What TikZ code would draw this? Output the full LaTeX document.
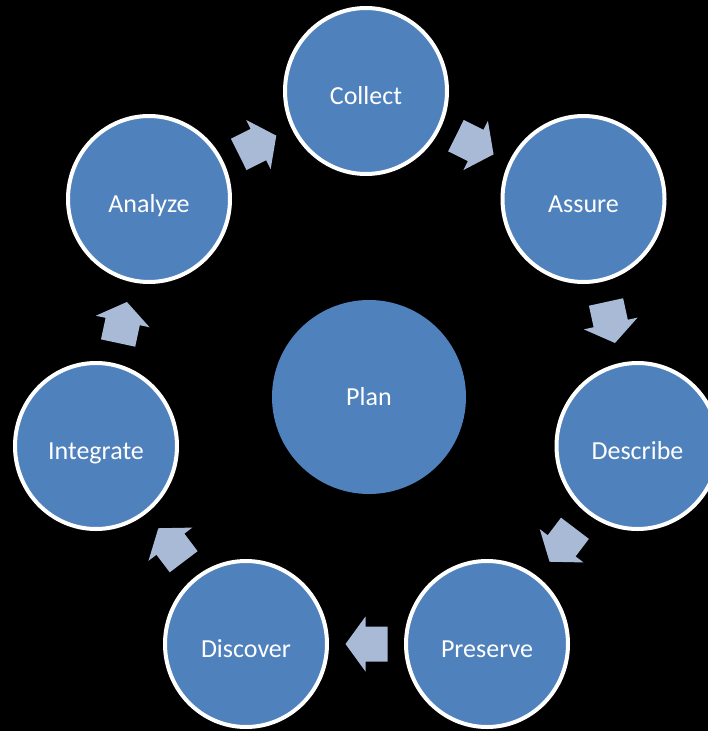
\documentclass[tikz,border=0pt]{standalone}
\usepackage{fontspec}
\setmainfont{Carlito}
\usetikzlibrary{shapes.geometric,calc}
\definecolor{cblue}{RGB}{79,129,189}
\definecolor{arrowblue}{RGB}{168,186,214}
% block arrow between two named nodes, centred on the midpoint of their centres
\newcommand\blockconn[2]{%
  \fill[blockarrow] let \p1=($(#2)-(#1)$), \n1={atan2(\y1,\x1)},
      \p2=($(#1)!0.5!(#2)$) in
    ($(\p2)+(\n1:-21pt)+(\n1+90:17.5pt)$) --
    ($(\p2)+(\n1:1pt)+(\n1+90:17.5pt)$) --
    ($(\p2)+(\n1:1pt)+(\n1+90:27.5pt)$) --
    ($(\p2)+(\n1:21pt)$) --
    ($(\p2)+(\n1:1pt)+(\n1+90:-27.5pt)$) --
    ($(\p2)+(\n1:1pt)+(\n1+90:-17.5pt)$) --
    ($(\p2)+(\n1:-21pt)+(\n1+90:-17.5pt)$) -- cycle;}
\begin{document}
\begin{tikzpicture}[x=1pt,y=-1pt,
  lbl/.style={text=white, font=\fontsize{26}{30}\selectfont},
  stage/.style={ellipse, fill=cblue, draw=white, line width=4pt,
    minimum width=162pt, minimum height=166pt, inner sep=0pt,
    text height=26pt, text depth=0pt, lbl},
  plan/.style={circle, fill=cblue, minimum size=194pt, inner sep=0pt, lbl},
  blockarrow/.style={fill=arrowblue}]
\fill[black] (0,0) rectangle (708,731);
\useasboundingbox (0,0) rectangle (708,731);
\node[stage] (Collect)   at (366,91)    {Collect};
\node[stage] (Assure)    at (583.5,199) {Assure};
\node[stage] (Describe)  at (637.5,446) {Describe};
\node[stage] (Preserve)  at (487,644)   {Preserve};
\node[stage] (Discover)  at (246,644)   {Discover};
\node[stage] (Integrate) at (96,446)    {Integrate};
\node[stage] (Analyze)   at (149,199)   {Analyze};
\node[plan]  (Plan)      at (369,397)   {Plan};
\blockconn{Analyze}{Collect}
\blockconn{Collect}{Assure}
\blockconn{Assure}{Describe}
\blockconn{Describe}{Preserve}
\blockconn{Preserve}{Discover}
\blockconn{Discover}{Integrate}
\blockconn{Integrate}{Analyze}
\end{tikzpicture}
\end{document}
